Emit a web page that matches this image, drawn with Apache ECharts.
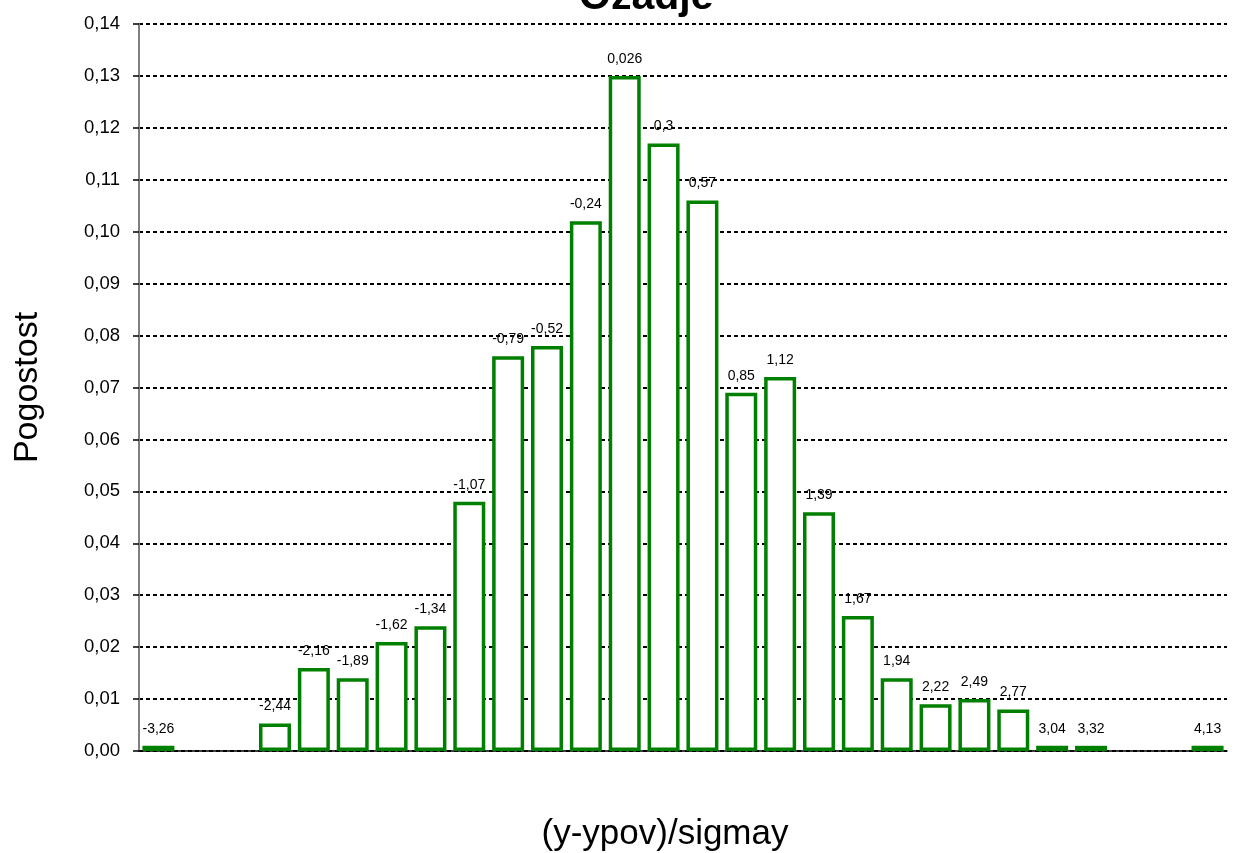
<!DOCTYPE html>
<html>
<head>
<meta charset="utf-8">
<script src="https://cdn.jsdelivr.net/npm/echarts@6/dist/echarts.min.js"></script>
<style>
html,body{margin:0;padding:0;background:#fff;}
#chart{width:1235px;height:853px;}
</style>
</head>
<body>
<div id="chart"></div>
<script>
var chartTitle = 'Ozadje';
var xTitle = '(y-ypov)/sigmay';
var yTitle = 'Pogostost';
var categories = ['-3,26','-2,98','-2,71','-2,44','-2,16','-1,89','-1,62','-1,34','-1,07','-0,79','-0,52','-0,24','0,026','0,3','0,57','0,85','1,12','1,39','1,67','1,94','2,22','2,49','2,77','3,04','3,32','3,59','3,86','4,13'];
var frequencies = [0.001,null,null,0.0053,0.016,0.014,0.021,0.024,0.048,0.076,0.078,0.102,0.130,0.117,0.106,0.069,0.072,0.046,0.026,0.014,0.009,0.010,0.008,0.001,0.001,null,null,0.001];
var yMin = 0, yMax = 0.14, yStep = 0.01;

var font = '"Liberation Sans", Arial, sans-serif';
var chart = echarts.init(document.getElementById('chart'));
chart.setOption({
  animation: false,
  backgroundColor: '#ffffff',
  title: {
    text: chartTitle,
    left: 574,
    top: -28,
    textStyle: {fontFamily: font, fontSize: 41, fontWeight: 'bold', color: '#000'}
  },
  grid: {left: 139, right: 8, top: 24, bottom: 102, containLabel: false, outerBoundsMode: 'none'},
  xAxis: {
    type: 'category',
    data: categories,
    name: xTitle,
    nameLocation: 'middle',
    nameGap: 66,
    nameTextStyle: {fontFamily: font, fontSize: 35, color: '#000', padding: [0, 36, 0, 0]},
    axisLine: {lineStyle: {color: '#000', width: 1.5}},
    axisTick: {show: false},
    axisLabel: {show: false},
    splitLine: {show: false}
  },
  yAxis: {
    type: 'value',
    min: yMin, max: yMax, interval: yStep,
    name: yTitle,
    nameLocation: 'middle',
    nameGap: 94,
    nameTextStyle: {fontFamily: font, fontSize: 34, color: '#000'},
    axisLine: {show: true, lineStyle: {color: '#808080', width: 2}},
    axisTick: {show: true, length: 6, lineStyle: {color: '#000', width: 1.5}},
    axisLabel: {
      margin: 19,
      fontFamily: font, fontSize: 18.5, color: '#000',
      formatter: function (v) { return v.toFixed(2).replace('.', ','); }
    },
    splitLine: {show: true, lineStyle: {color: '#000', type: [4, 3], width: 2}}
  },
  series: [{
    type: 'bar',
    data: frequencies,
    barWidth: 32,
    itemStyle: {color: '#ffffff', borderColor: '#008000', borderWidth: 3.5},
    label: {
      show: true,
      position: 'top',
      distance: 10,
      fontFamily: font, fontSize: 14, color: '#000',
      formatter: function (p) { return p.name; }
    }
  }]
});
</script>
</body>
</html>
